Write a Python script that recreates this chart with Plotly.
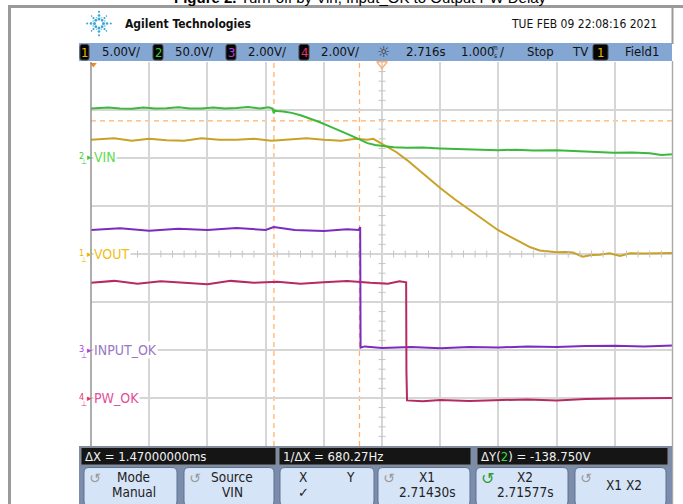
import plotly.graph_objects as go
import math

W, H = 683, 504

# ---------------- data ----------------
vin_t = [-5.0, -4.7, -4.5, -4.3, -4.1, -3.9, -3.7, -3.5, -3.3, -3.1, -2.9, -2.7, -2.5, -2.3,
         -2.1, -1.95, -1.88, -1.86, -1.84, -1.80, -1.7, -1.55, -1.4, -1.25, -1.1, -0.95, -0.8,
         -0.67, -0.52, -0.38, -0.25, -0.12, 0.0, 0.2, 0.43, 0.7, 1.0, 1.3, 1.6, 1.99, 2.3, 2.6,
         3.0, 3.3, 3.6, 3.98, 4.3, 4.6, 4.8, 5.0]
vin_v = [51.6, 52.6, 51.6, 51.3, 52.7, 51.6, 51.9, 52.9, 51.5, 51.6, 52.6, 51.6, 52.0, 53.0,
         51.6, 52.8, 51.6, 46.5, 49.6, 49.0, 48.4, 47.0, 44.5, 41.5, 38.0, 34.3, 30.8,
         27.0, 23.0, 18.7, 15.5, 13.5, 12.4, 11.2, 10.6, 10.9, 10.0, 9.3, 9.0, 8.2, 8.6, 7.8,
         8.2, 7.5, 6.4, 5.4, 5.7, 4.9, 3.2, 4.0]

vout_t = [-5.0, -4.6, -4.3, -4.0, -3.7, -3.4, -3.1, -2.8, -2.5, -2.2, -1.9, -1.6, -1.3, -1.0,
          -0.7, -0.45, -0.25, -0.15, 0.05, 0.25, 0.43, 0.7, 1.0, 1.25, 1.51, 1.75, 1.99, 2.2,
          2.37, 2.55, 2.71, 2.85, 3.0, 3.15, 3.28, 3.45, 3.6, 3.74, 3.91, 4.09, 4.26, 4.5,
          4.75, 5.0]
vout_v = [11.9, 12.05, 11.8, 12.0, 11.85, 11.8, 12.05, 11.9, 11.9, 12.0, 11.8, 11.9, 12.05,
          11.9, 11.8, 12.0, 11.9, 12.0, 11.3, 10.6, 9.78, 8.4, 6.87, 5.7, 4.58, 3.5, 2.5, 1.8,
          1.25, 0.7, 0.36, 0.3, 0.18, 0.2, 0.15, -0.28, -0.1, -0.09, 0.07, -0.2, 0.07, 0.05,
          0.1, 0.1]

inok_t = [-5.0, -4.5, -4.0, -3.5, -3.0, -2.5, -2.0, -1.86, -1.5, -1.0, -0.6, -0.40, -0.375,
          -0.368, -0.3, 0.0, 0.5, 1.0, 1.5, 2.0, 2.5, 3.0, 3.5, 4.0, 4.5, 5.0]
inok_v = [5.0, 5.07, 4.97, 5.05, 5.0, 5.08, 5.0, 5.12, 5.0, 4.96, 5.03, 5.0, 5.12, 0.1, 0.15,
          0.08, 0.13, 0.07, 0.12, 0.1, 0.15, 0.12, 0.17, 0.18, 0.15, 0.19]

pwok_t = [-5.0, -4.6, -4.2, -3.8, -3.4, -3.0, -2.6, -2.2, -1.8, -1.4, -1.0, -0.6, -0.2, 0.1,
          0.3, 0.415, 0.42, 0.43, 0.7, 1.0, 1.5, 2.0, 2.5, 3.0, 3.5, 4.0, 4.5, 5.0]
pwok_v = [4.8, 4.88, 4.76, 4.86, 4.8, 4.74, 4.88, 4.8, 4.84, 4.76, 4.82, 4.88, 4.8, 4.76,
          4.86, 4.82, 1.1, -0.1, -0.14, -0.08, -0.12, -0.1, -0.06, -0.1, -0.04, -0.02, 0.0, 0.0]

ch_names = ["VOUT", "VIN", "INPUT_OK", "PW_OK"]
ch_scale = [5.0, 50.0, 2.0, 2.0]        # V/div
ch_offset = [0, 2, -2, -3]              # ground marker, divisions from centre
cursor_x_ms = [-1.857, -0.387]          # X1, X2
cursor_y_v = [38.75, -100.0]            # Y1, Y2 (channel 2)

title_text = "<b>Figure 2.</b> Turn-off by Vin, Input_OK to Output PW Delay"
date_text = "TUE FEB 09 22:08:16 2021"
bar_items = ["5.00V/", "50.0V/", "2.00V/", "2.00V/", "2.716s", "1.000", "Stop", "TV", "Field1"]
meas_texts = ["ΔX = 1.47000000ms", "1/ΔX = 680.27Hz",
              "ΔY(<span style='color:#3ddc3d'>2</span>) = -138.750V"]
buttons = [("Mode", "Manual"), ("Source", "VIN"), ("X", "Y"), ("X1", "2.71430s"),
           ("X2", "2.71577s"), ("X1 X2", "")]

# ---------------- styling ----------------
NARROW = "DejaVu Sans Condensed, DejaVu Sans, sans-serif"
SANS = "Liberation Sans, Arial, sans-serif"
trace_col = ["#c9a126", "#3cb83c", "#7b2cc0", "#b52a62"]
label_col = ["#f0c020", "#5edc4e", "#9a78c4", "#e0509a"]
num_col = ["#e6b800", "#3ccc3c", "#b040e0", "#e8306a"]
CUR = "#ffb36e"
TICK = "#c4c4c4"
FRAME = "#9a9a9a"
GL, GR, GT, GB = 91, 673, 62, 446


def X(px):
    return px / W


def Y(py):
    return 1 - py / H


def rrect(x0, y0, x1, y1, r):
    def P(x, y):
        return f"{X(x):.5f},{Y(y):.5f}"
    return ("M" + P(x0 + r, y0) + " L" + P(x1 - r, y0) + " Q" + P(x1, y0) + " " + P(x1, y0 + r) +
            " L" + P(x1, y1 - r) + " Q" + P(x1, y1) + " " + P(x1 - r, y1) +
            " L" + P(x0 + r, y1) + " Q" + P(x0, y1) + " " + P(x0, y1 - r) +
            " L" + P(x0, y0 + r) + " Q" + P(x0, y0) + " " + P(x0 + r, y0) + " Z")


shapes = []
annotations = []


def rect(x0, y0, x1, y1, fill, line=None, lw=0, layer="above"):
    shapes.append(dict(type="rect", xref="paper", yref="paper", x0=X(x0), x1=X(x1),
                       y0=Y(y1), y1=Y(y0), fillcolor=fill, layer=layer,
                       line=dict(color=line or fill, width=lw)))


def rpath(x0, y0, x1, y1, r, fill, line, lw=1):
    shapes.append(dict(type="path", xref="paper", yref="paper", path=rrect(x0, y0, x1, y1, r),
                       fillcolor=fill, line=dict(color=line, width=lw), layer="above"))


def text(x, y, s, size=14, color="#111", anchor="left", family=NARROW, bg=None, yanchor="middle"):
    a = dict(xref="paper", yref="paper", x=X(x), y=Y(y), text=s, showarrow=False,
             xanchor=anchor, yanchor=yanchor, borderpad=0,
             font=dict(family=family, size=size, color=color))
    if bg:
        a.update(bgcolor=bg)
    annotations.append(a)


# ---------------- page frame (first, so nothing is ordered before it) ----------------
rect(8, 5, W, 8, FRAME)
rect(8, 5, 11, H, FRAME)
rect(671.5, 8, 673.5, 44, FRAME)
# frame also as annotation-free path shapes
shapes.append(dict(type="path", xref="paper", yref="paper",
                   path=f"M{X(9.5)},{Y(H)} L{X(9.5)},{Y(6.5)} L{X(W)},{Y(6.5)}",
                   line=dict(color=FRAME, width=2)))

fig = go.Figure()

# ---------------- traces ----------------
series = [(vout_t, vout_v), (vin_t, vin_v), (inok_t, inok_v), (pwok_t, pwok_v)]
yrefs = ["y", "y2", "y3", "y4"]
for i, (t, v) in enumerate(series):
    fig.add_trace(go.Scatter(x=t, y=v, mode="lines", yaxis=yrefs[i], name=ch_names[i],
                             line=dict(color=trace_col[i], width=2), showlegend=False,
                             hoverinfo="skip"))

fig.add_trace(go.Scatter(x=[k / 5 for k in range(-25, 26) if k % 5], y=[0] * 40, mode="markers",
                         marker=dict(symbol="line-ns-open", size=5, color=TICK,
                                     line=dict(color=TICK, width=1)),
                         showlegend=False, hoverinfo="skip"))
fig.add_trace(go.Scatter(x=[0] * 32, y=[k * ch_scale[0] / 5 for k in range(-20, 21) if k % 5],
                         mode="markers",
                         marker=dict(symbol="line-ew-open", size=5, color=TICK,
                                     line=dict(color=TICK, width=1)),
                         showlegend=False, hoverinfo="skip"))
fig.add_trace(go.Scatter(x=[0], y=[4 * ch_scale[0] - 0.2], mode="markers", cliponaxis=False,
                         marker=dict(symbol="triangle-down-open", size=9, color=CUR,
                                     line=dict(width=1.5, color=CUR)),
                         showlegend=False, hoverinfo="skip"))
fig.add_trace(go.Scatter(x=[-4.96], y=[4 * ch_scale[0] - 0.25], mode="markers", cliponaxis=False,
                         marker=dict(symbol="triangle-down", size=6, color="#f08a20"),
                         showlegend=False, hoverinfo="skip"))

# cursors
for cx in cursor_x_ms:
    shapes.append(dict(type="line", xref="x", yref="paper", x0=cx, x1=cx, y0=Y(GB), y1=Y(GT),
                       layer="between", line=dict(color=CUR, width=1.3, dash="5px,4px")))
for cy in cursor_y_v:
    shapes.append(dict(type="line", xref="paper", yref="y2", x0=X(GL), x1=X(GR), y0=cy, y1=cy,
                       layer="between", line=dict(color=CUR, width=1.3, dash="5px,4px")))

text(360, -3, title_text, size=15, color="#000", anchor="center", family=SANS)

# Agilent logo
cx0, cy0 = 99, 23.5
for k in range(8):
    ang = math.radians(k * 45)
    rays = [(4.5, 1.5), (8.0, 1.35), (11.8, 1.05)] if k % 2 == 0 else [(4.5, 1.4), (7.8, 1.1), (10.5, 0.8)]
    for r, s in rays:
        px_, py_ = cx0 + r * math.cos(ang), cy0 + r * math.sin(ang)
        shapes.append(dict(type="circle", xref="paper", yref="paper", x0=X(px_ - s), x1=X(px_ + s),
                           y0=Y(py_ + s), y1=Y(py_ - s), fillcolor="#3aa6d6",
                           line=dict(width=0)))
for k in range(8):
    ang = math.radians(22.5 + k * 45)
    px_, py_ = cx0 + 6.3 * math.cos(ang), cy0 + 6.3 * math.sin(ang)
    shapes.append(dict(type="circle", xref="paper", yref="paper", x0=X(px_ - 0.8), x1=X(px_ + 0.8),
                       y0=Y(py_ + 0.8), y1=Y(py_ - 0.8), fillcolor="#6cc3e8", line=dict(width=0)))

text(124, 23.5, "<b>Agilent Technologies</b>", size=12, color="#111")
text(658, 23.5, date_text, size=12, color="#111", anchor="right")

# top status bar
rect(79, 43, 672, 61, "#84a6d3")
boxes = [(80, 89, "1", num_col[0]), (153, 163, "2", num_col[1]), (226, 236, "3", num_col[2]),
         (299, 309, "4", num_col[3]), (593, 608, "1", num_col[0])]
for x0, x1, s, c in boxes:
    rpath(x0, 44.5, x1, 60, 2, "#050505", "#444", 1)
    text((x0 + x1) / 2, 52.5, s, size=13, color=c, anchor="center")
bar_x = [101, 174, 247, 320, 405, 460, 526, 571, 624]
for x, s in zip(bar_x, bar_items):
    text(x, 52, s, size=13, color="#111")
text(495, 48.5, "m", size=6.5, color="#111", anchor="center")
text(495, 56, "s", size=6.5, color="#111", anchor="center")
text(499, 52, "/", size=13, color="#111")
text(383, 52, "☼", size=15, color="#333", anchor="center", family="DejaVu Sans")

# plot frame borders
rect(90.3, GT, 91.7, GB, "#8c8c8c")
rect(671.8, 61, 673.2, H, "#a8a8a8")

# channel labels on the left
label_y = [254, 157, 350, 398]
for i in range(4):
    yy = label_y[i]
    text(81, yy - 1.5, ["1", "2", "3", "4"][i], size=9, color=num_col[i], anchor="center")
    text(84, yy + 5.5, "⊥", size=7, color=num_col[i], anchor="center", family="DejaVu Sans")
    text(89, yy, "▸", size=9, color=num_col[i], anchor="center", family="DejaVu Sans")
    text(93, yy, ch_names[i], size=14, color=label_col[i], bg="white")

# bottom panel
rect(79, 446, 672, H, "#7b8dab")
meas_x = [(81, 276), (279, 471), (477, 668)]
for (x0, x1), s in zip(meas_x, meas_texts):
    rect(x0, 447.5, x1, 465, "#151515", "#8a8a8a", 1)
    text(x0 + 3, 456.5, s, size=13, color="#f2f2f2")
btn_x = [(84, 177), (184, 274), (280, 374), (378, 470), (476, 568), (575, 666)]
for k, ((x0, x1), (a, b)) in enumerate(zip(btn_x, buttons)):
    rpath(x0, 467.5, x1, 506, 5, "#d6e4f7", "#5f7190", 1)
    if k == 2:
        text(303, 477, a, size=13.5, color="#222", anchor="center")
        text(350, 477, b, size=13.5, color="#222", anchor="center")
        text(303, 492, "✓", size=13, color="#222", anchor="center", family="DejaVu Sans")
        continue
    icon_col = "#2a9a2a" if k == 4 else "#9a9a9a"
    text(x0 + 11, 478, "↺", size=14 if k != 4 else 16, color=icon_col, anchor="center",
         family="DejaVu Sans")
    mid = (x0 + x1) / 2 + 3
    if b:
        text(mid, 477, a, size=13.5, color="#222", anchor="center")
        text(mid, 491.5, b, size=13.5, color="#222", anchor="center")
    else:
        text(mid, 485, a, size=13.5, color="#222", anchor="center")

# ---------------- axes ----------------
ydom = [Y(GB), Y(GT)]
layout_axes = {}
for i in range(4):
    rng = [(-4 - ch_offset[i]) * ch_scale[i], (4 - ch_offset[i]) * ch_scale[i]]
    key = "yaxis" if i == 0 else f"yaxis{i + 1}"
    if i == 0:
        layout_axes[key] = dict(domain=ydom, range=rng, dtick=ch_scale[i], tick0=0,
                                showgrid=True, gridcolor="#d6d6d6", gridwidth=1.5,
                                zeroline=False, showticklabels=False, ticks="", fixedrange=True)
    else:
        layout_axes[key] = dict(overlaying="y", range=rng, visible=False, fixedrange=True)

fig.update_layout(
    width=W, height=H, margin=dict(l=0, r=0, t=0, b=0),
    paper_bgcolor="white", plot_bgcolor="white",
    xaxis=dict(domain=[X(GL), X(GR)], range=[-5, 5], dtick=1, tick0=0, showgrid=True,
               gridcolor="#d6d6d6", gridwidth=1.5, zeroline=False, showticklabels=False,
               ticks="", fixedrange=True),
    shapes=shapes, annotations=annotations, showlegend=False,
    **layout_axes,
)

fig.write_html("out.html", config={"displayModeBar": False},
               post_script="document.body.style.margin='0';document.body.style.overflow='hidden';")
